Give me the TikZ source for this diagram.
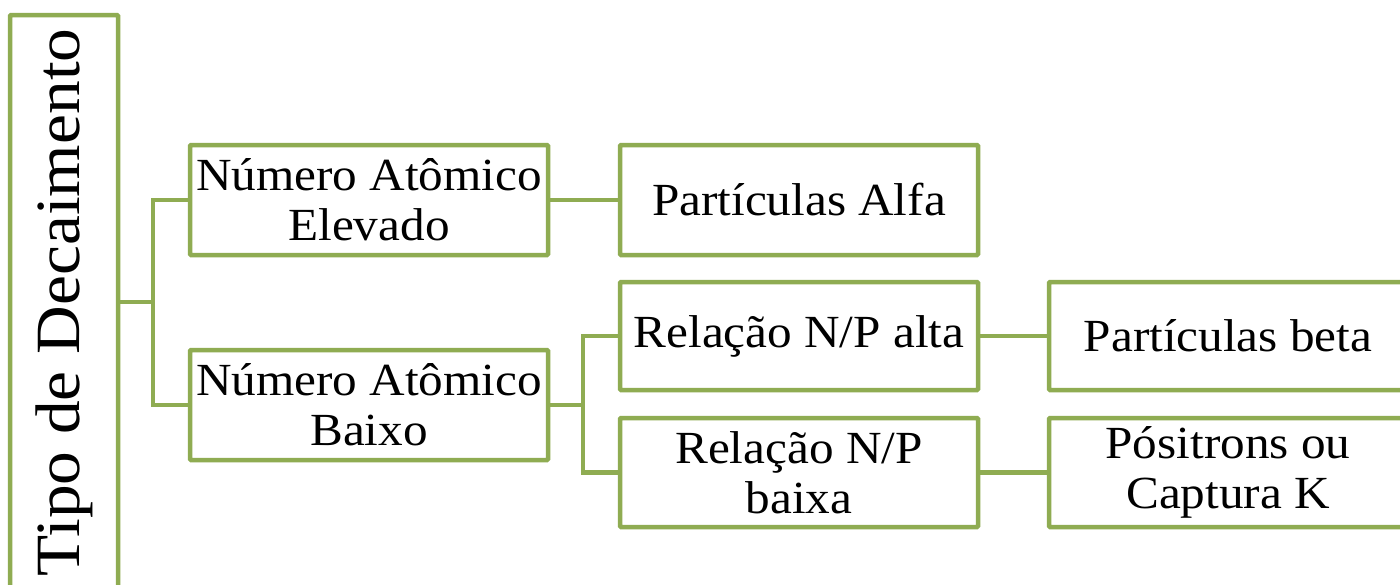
\documentclass[tikz,border=0pt]{standalone}
\usepackage{fontspec}
\setmainfont[FakeStretch=1.07]{Liberation Serif}
\definecolor{boxgreen}{RGB}{143,172,82}
\begin{document}
\begin{tikzpicture}[x=1pt,y=-1pt,
  box/.style={draw=boxgreen, line width=4.5pt, fill=white, rectangle, rounded corners=1pt,
    minimum width=358pt, minimum height=110pt, inner sep=0pt, outer sep=0pt,
    align=center, font=\fontsize{46}{50}\selectfont},
  conn/.style={draw=boxgreen, line width=4.5pt}]
\clip (0,0) rectangle (1400,584);
\fill[white] (0,0) rectangle (1400,584);
\node[box, minimum width=108pt, minimum height=575pt] (root) at (64,302.5) {};
\node[rotate=90, font=\fontsize{63}{70}\selectfont, inner sep=0pt] (rootlabel) at (root.center) {Tipo de Decaimento};
\node[box] (elev) at (369,200) {Número Atômico\\Elevado};
\node[box] (baixo) at (369,405) {Número Atômico\\Baixo};
\node[box] (alfa) at (799,200) {Partículas Alfa};
\node[box, minimum height=108pt] (alta) at (799,336) {Relação N/P alta};
\node[box, minimum height=109pt] (npb) at (799,472.5) {Relação N/P\\baixa};
\node[box, minimum height=108pt] (beta) at (1228,336) {Partículas beta};
\node[box, minimum height=109pt] (posi) at (1228,472.5) {Pósitrons ou\\Captura K};
\coordinate (j1) at (153,302);
\coordinate (j2) at (583,405);
\draw[conn] (root.east |- j1) -- (j1);
\draw[conn] (elev.west) -| (j1) |- (baixo.west);
\draw[conn] (elev.east) -- (alfa.west);
\draw[conn] (baixo.east) -- (j2);
\draw[conn] (alta.west) -| (j2) |- (npb.west);
\draw[conn] (alta.east) -- (beta.west);
\draw[conn] (npb.east) -- (posi.west);
\end{tikzpicture}
\end{document}
